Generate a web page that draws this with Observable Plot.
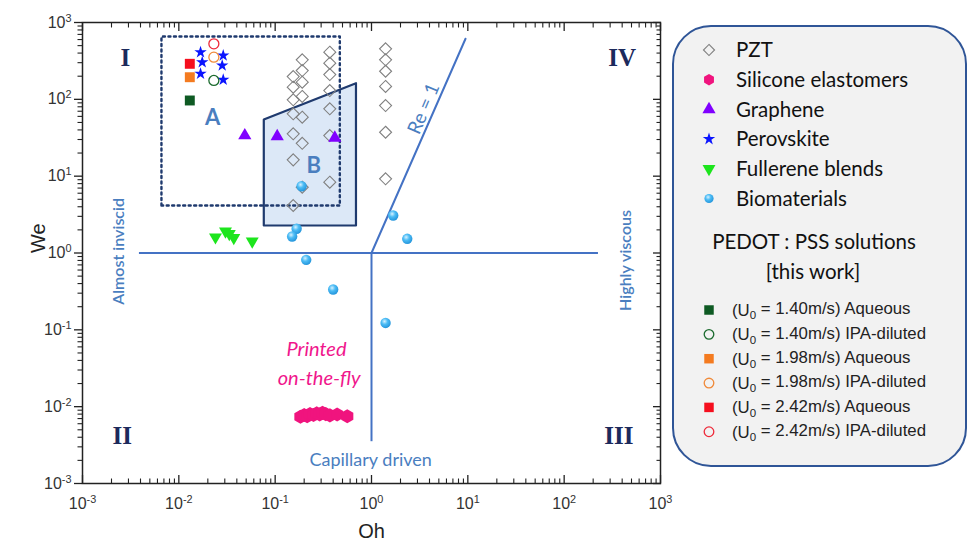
<!DOCTYPE html>
<html><head><meta charset="utf-8">
<script src="https://cdn.jsdelivr.net/npm/d3@7"></script>
<script src="https://cdn.jsdelivr.net/npm/@observablehq/plot@0.6"></script>
<style>
body{margin:0;background:#fff;}
#chart{position:relative;width:970px;height:551px;}
</style>
</head><body><div id="chart"></div>
<script>
// ---------------- data ----------------
const pztOh = [0.191,0.191,0.191,0.191,0.191,0.191,0.191, 0.154,0.154,0.154,0.154,0.154,0.154,0.154, 0.369,0.369,0.369,0.369,0.369,0.369,0.369, 1.40,1.40,1.40,1.40,1.40,1.40,1.40];
const pztWe = [327,237,167,109,58.5,26.8,7.18, 198,144,98.6,64.8,35.6,16.3,4.15, 411,295,210,130,75.3,33.8,8.34, 455,327,232,147,83,37.3,9.24];
const siliconeOh = [0.183,0.20,0.215,0.23,0.25,0.27,0.29,0.31,0.335,0.37,0.44,0.56];
const siliconeWe = [0.0074,0.0078,0.0075,0.0080,0.0078,0.0082,0.0079,0.0083,0.0080,0.0077,0.0079,0.0075];
const grapheneOh = [0.0484,0.105,0.416];
const grapheneWe = [33.8,33,31.5];
const perovskiteOh = [0.0168,0.0175,0.0168,0.0289,0.0282,0.0289];
const perovskiteWe = [411,304,215,372,276,180];
const fullereneOh = [0.024,0.0305,0.0334,0.0372,0.0578];
const fullereneWe = [1.61,1.92,1.78,1.58,1.42];
const bioOh = [0.188,0.167,0.150,1.68,2.35,0.21,0.40,1.40];
const bioWe = [7.4,2.07,1.64,3.08,1.53,0.815,0.335,0.123];
const pedotLabels = ["(U0 = 1.40m/s) Aqueous","(U0 = 1.40m/s) IPA-diluted","(U0 = 1.98m/s) Aqueous","(U0 = 1.98m/s) IPA-diluted","(U0 = 2.42m/s) Aqueous","(U0 = 2.42m/s) IPA-diluted"];
const pedotOh = [0.0130,0.0231,0.0130,0.0231,0.0130,0.0231];
const pedotWe = [96.6,176,194,354,290,528];
const pedotColors = ["#0e5a23","#1b6b2e","#f47b20","#f08a3a","#f50f1e","#ee2a3a"];
const pedotFilled = [true,false,true,false,true,false];

const legendLabels = ["PZT","Silicone elastomers","Graphene","Perovskite","Fullerene blends","Biomaterials"];

// regime boundaries
const horizOh = [0.0039, 227];      // We = 1
const vertWe = [0.0035, 1];         // Oh = 1
const reLineOh = [1, 9.46];
const reLineWe = [1, 614];
// region A (dotted) and B (shaded)
const regionAOh = [0.0066, 0.469];
const regionAWe = [4.15, 657];
const regionBOh = [0.0762, 0.69];
const regionBWeBottom = 2.28;
const regionBWeTop = [54.6, 162];

// axis ticks
const decades = [1e-3,1e-2,1e-1,1,1e1,1e2,1e3];
const minorTicks = [];
for (let e = -3; e < 3; e++) for (let k = 2; k <= 9; k++) minorTicks.push(k * Math.pow(10, e));

// annotations
const quadLabels = [
  {t:"I", x:0.00279, y:350}, {t:"IV", x:400, y:350},
  {t:"II", x:0.00258, y:0.00421}, {t:"III", x:369, y:0.0041}
];
const regionLabels = [{t:"A", x:0.0224, y:57}, {t:"B", x:0.252, y:13.4}];

// ---------------- helpers ----------------
const rows = (xs, ys) => xs.map((x, i) => ({x, y: ys[i]}));
const pzt = rows(pztOh, pztWe);
const silicone = rows(siliconeOh, siliconeWe);
const graphene = rows(grapheneOh, grapheneWe);
const perovskite = rows(perovskiteOh, perovskiteWe);
const fullerene = rows(fullereneOh, fullereneWe);
const bio = rows(bioOh, bioWe);
const pedot = pedotOh.map((x, i) => ({x, y: pedotWe[i], c: pedotColors[i], f: pedotFilled[i]}));

const triangleDown = {draw(ctx, size) {
  const y = -Math.sqrt(size / (Math.sqrt(3) * 3));
  ctx.moveTo(0, -y * 2); ctx.lineTo(-Math.sqrt(3) * y, y); ctx.lineTo(Math.sqrt(3) * y, y); ctx.closePath();
}};
const hexagon = {draw(ctx, size) {
  const r = Math.sqrt(size / (1.5 * Math.sqrt(3)));
  for (let i = 0; i < 6; i++) {
    const a = Math.PI / 3 * i - Math.PI / 2;
    const px = r * Math.cos(a), py = r * Math.sin(a);
    if (i === 0) ctx.moveTo(px, py); else ctx.lineTo(px, py);
  }
  ctx.closePath();
}};

const blue = "#4472c4";
const labelBlue = "#4a7ebf";
const navy = "#1f3a6e";
const supFmt = d => "10^" + Math.round(Math.log10(d));

const bArea = [{x: regionBOh[0], y1: regionBWeBottom, y2: regionBWeTop[0]}, {x: regionBOh[1], y1: regionBWeBottom, y2: regionBWeTop[1]}];
const bOutline = [
  {x: regionBOh[0], y: regionBWeBottom}, {x: regionBOh[0], y: regionBWeTop[0]},
  {x: regionBOh[1], y: regionBWeTop[1]}, {x: regionBOh[1], y: regionBWeBottom},
  {x: regionBOh[0], y: regionBWeBottom}
];
const aOutline = [
  {x: regionAOh[0], y: regionAWe[0]}, {x: regionAOh[0], y: regionAWe[1]},
  {x: regionAOh[1], y: regionAWe[1]}, {x: regionAOh[1], y: regionAWe[0]},
  {x: regionAOh[0], y: regionAWe[0]}
];

const plot = Plot.plot({
  width: 970, height: 551,
  marginLeft: 82, marginRight: 310, marginTop: 22, marginBottom: 68,
  x: {type: "log", domain: [1e-3, 1e3]},
  y: {type: "log", domain: [1e-3, 1e3]},
  style: {fontFamily: "'Liberation Sans', Arial, sans-serif", background: "white", overflow: "visible", color: "#222"},
  marks: [
    Plot.areaY(bArea, {x: "x", y1: "y1", y2: "y2", fill: "#dce8f7"}),
    Plot.line(bOutline, {x: "x", y: "y", stroke: navy, strokeWidth: 2.2}),
    Plot.line(aOutline, {x: "x", y: "y", stroke: navy, strokeWidth: 2.4, strokeDasharray: "2,3.5"}),
    Plot.ruleY([1], {x1: horizOh[0], x2: horizOh[1], stroke: blue, strokeWidth: 2}),
    Plot.ruleX([1], {y1: vertWe[0], y2: vertWe[1], stroke: blue, strokeWidth: 2}),
    Plot.line(rows(reLineOh, reLineWe), {x: "x", y: "y", stroke: blue, strokeWidth: 2}),
    // data
    Plot.dot(pzt, {x: "x", y: "y", symbol: "diamond2", r: 5.4, stroke: "#808080", strokeWidth: 1.1, fill: "none"}),
    Plot.dot(silicone, {x: "x", y: "y", symbol: hexagon, r: 6.4, fill: "#f0147e", stroke: "none"}),
    Plot.dot(graphene, {x: "x", y: "y", symbol: "triangle", r: 4.9, fill: "#8000ff", stroke: "none"}),
    Plot.dot(fullerene, {x: "x", y: "y", symbol: triangleDown, r: 4.8, fill: "#1de51d", stroke: "none"}),
    Plot.dot(bio, {x: "x", y: "y", r: 5.2, fill: "url(#sphereGrad)", stroke: "none"}),
    Plot.dot(perovskite, {x: "x", y: "y", symbol: "star", r: 3.9, fill: "#0a14ff", stroke: "none"}),
    Plot.dot(pedot.filter(d => d.f), {x: "x", y: "y", symbol: "square", r: 5.6, fill: "c", stroke: "none"}),
    Plot.dot(pedot.filter(d => !d.f), {x: "x", y: "y", r: 5, fill: "none", stroke: "c", strokeWidth: 1.3}),
    // annotations
    Plot.text(quadLabels, {x: "x", y: "y", text: "t", fontFamily: "'Liberation Serif', 'DejaVu Serif', serif", fontWeight: "bold", fontSize: 25, fill: "#1c2a5c"}),
    Plot.text(regionLabels, {x: "x", y: "y", text: "t", fontFamily: "Lato, sans-serif", fontWeight: "bold", fontSize: 22, fill: labelBlue}),
    Plot.text(["Almost inviscid"], {x: 0.00237, y: 1.05, text: d => d, rotate: -90, fontFamily: "Lato, sans-serif", fontWeight: 600, fontSize: 16, fill: labelBlue}),
    Plot.text(["Highly viscous"], {x: 434, y: 0.8, text: d => d, rotate: -90, fontFamily: "Lato, sans-serif", fontWeight: 600, fontSize: 16, fill: labelBlue}),
    Plot.text(["Capillary driven"], {x: 0.98, y: 0.0020, text: d => d, fontFamily: "Lato, sans-serif", fontSize: 18, fill: labelBlue}),
    Plot.text(["Re = 1"], {x: 3.49, y: 75.4, text: d => d, rotate: -67, fontFamily: "Lato, sans-serif", fontSize: 19, fill: labelBlue}),
    Plot.text(["Printed"], {x: 0.2685, y: 0.0555, text: d => d, fontFamily: "Lato, sans-serif", fontStyle: "italic", fontSize: 20, fill: "#f0168c"}),
    Plot.text(["on-the-fly"], {x: 0.286, y: 0.023, text: d => d, fontFamily: "Lato, sans-serif", fontStyle: "italic", fontSize: 20, fill: "#f0168c"}),
    // axes
    Plot.axisX({ticks: decades, anchor: "bottom", tickSize: 0, tickPadding: 14, tickFormat: supFmt, fontSize: 16, label: null, fill: "#333"}),
    Plot.axisX({ticks: decades, anchor: "bottom", tickSize: 8, dy: -8, tickFormat: () => "", label: null, strokeWidth: 1.3}),
    Plot.axisX({ticks: minorTicks, anchor: "bottom", tickSize: 4.5, dy: -4.5, tickFormat: () => "", label: null, strokeWidth: 1.1}),
    Plot.axisX({ticks: decades, anchor: "top", tickSize: 8, dy: 8, tickFormat: () => "", label: null, strokeWidth: 1.3}),
    Plot.axisX({ticks: minorTicks, anchor: "top", tickSize: 4.5, dy: 4.5, tickFormat: () => "", label: null, strokeWidth: 1.1}),
    Plot.axisY({ticks: decades, anchor: "left", tickSize: 8, tickPadding: 3, tickFormat: supFmt, fontSize: 16, label: null, strokeWidth: 1.3, fill: "#333"}),
    Plot.axisY({ticks: minorTicks, anchor: "left", tickSize: 4.5, tickFormat: () => "", label: null, strokeWidth: 1.1}),
    Plot.axisY({ticks: decades, anchor: "right", tickSize: 8, dx: -8, tickFormat: () => "", label: null, strokeWidth: 1.3}),
    Plot.axisY({ticks: minorTicks, anchor: "right", tickSize: 4.5, dx: -4.5, tickFormat: () => "", label: null, strokeWidth: 1.1}),
    Plot.text(["Oh"], {frameAnchor: "bottom", dy: 54, text: d => d, fontSize: 20, fill: "#222"}),
    Plot.text(["We"], {frameAnchor: "left", dx: -44, rotate: -90, text: d => d, fontSize: 20, fill: "#222"}),
    Plot.frame({stroke: "#222", strokeWidth: 1.5})
  ]
});

document.getElementById("chart").appendChild(plot);
const svg = d3.select(plot);

// sphere gradient
const defs = svg.insert("defs", ":first-child");
const g = defs.append("radialGradient").attr("id", "sphereGrad").attr("cx", "40%").attr("cy", "35%").attr("r", "65%");
g.append("stop").attr("offset", "0%").attr("stop-color", "#d6f1ff");
g.append("stop").attr("offset", "45%").attr("stop-color", "#4cbcf5");
g.append("stop").attr("offset", "100%").attr("stop-color", "#2596dc");

// superscript tick labels
svg.selectAll("text").each(function() {
  const t = this.textContent;
  const m = /^10\^(-?\d+)$/.exec(t);
  if (!m) return;
  const el = d3.select(this);
  el.text("");
  el.append("tspan").text("10");
  el.append("tspan").attr("dy", "-0.55em").attr("font-size", "0.68em").text(m[1]);
});

// legend
const lg = svg.append("g").attr("font-family", "Lato, sans-serif").attr("text-anchor", "start");
lg.append("rect").attr("x", 673).attr("y", 26).attr("width", 293).attr("height", 440).attr("rx", 38)
  .attr("fill", "#f2f2f2").attr("stroke", "#2f5597").attr("stroke-width", 2);
const legendStyles = [
  {sym: d3.symbolDiamond2, size: Math.PI * 5 * 5, fill: "none", stroke: "#808080"},
  {sym: hexagon, size: Math.PI * 5.2 * 5.2, fill: "#f0147e"},
  {sym: d3.symbolTriangle, size: Math.PI * 4.9 * 4.9, fill: "#8000ff"},
  {sym: d3.symbolStar, size: Math.PI * 3.9 * 3.9, fill: "#0a14ff"},
  {sym: triangleDown, size: Math.PI * 4.8 * 4.8, fill: "#1de51d"},
  {sym: d3.symbolCircle, size: Math.PI * 4.6 * 4.6, fill: "url(#sphereGrad)"}
];
legendLabels.forEach((lab, i) => {
  const y = 50 + i * 29.7;
  const st = legendStyles[i];
  lg.append("path").attr("d", d3.symbol(st.sym, st.size)()).attr("transform", `translate(709,${y})`)
    .attr("fill", st.fill).attr("stroke", st.stroke || "none").attr("stroke-width", 1.1);
  lg.append("text").attr("x", 736).attr("y", y).attr("dy", "0.35em").attr("font-size", 20.5).attr("fill", "#111").text(lab);
});
lg.append("text").attr("x", 814).attr("y", 242).attr("dy", "0.35em").attr("text-anchor", "middle").attr("font-size", 20.5).attr("fill", "#111").text("PEDOT : PSS solutions");
lg.append("text").attr("x", 813).attr("y", 272).attr("dy", "0.35em").attr("text-anchor", "middle").attr("font-size", 20.5).attr("fill", "#111").text("[this work]");
pedotLabels.forEach((lab, i) => {
  const y = 310 + i * 24.35;
  if (pedotFilled[i]) {
    lg.append("path").attr("d", d3.symbol(d3.symbolSquare, 90)()).attr("transform", `translate(709,${y})`).attr("fill", pedotColors[i]);
  } else {
    lg.append("circle").attr("cx", 709).attr("cy", y).attr("r", 4.8).attr("fill", "none").attr("stroke", pedotColors[i]).attr("stroke-width", 1.3);
  }
  const m = /^\(U0(.*)$/.exec(lab);
  const t = lg.append("text").attr("x", 732).attr("y", y).attr("dy", "0.35em").attr("text-anchor", "start").attr("font-family", "'Liberation Sans', Arial, sans-serif").attr("font-size", 16.8).attr("fill", "#222");
  t.append("tspan").text("(U");
  t.append("tspan").attr("dy", "0.3em").attr("font-size", 11.5).text("0");
  t.append("tspan").attr("dy", "-0.3em").text(m[1]);
});
</script>
</body></html>
